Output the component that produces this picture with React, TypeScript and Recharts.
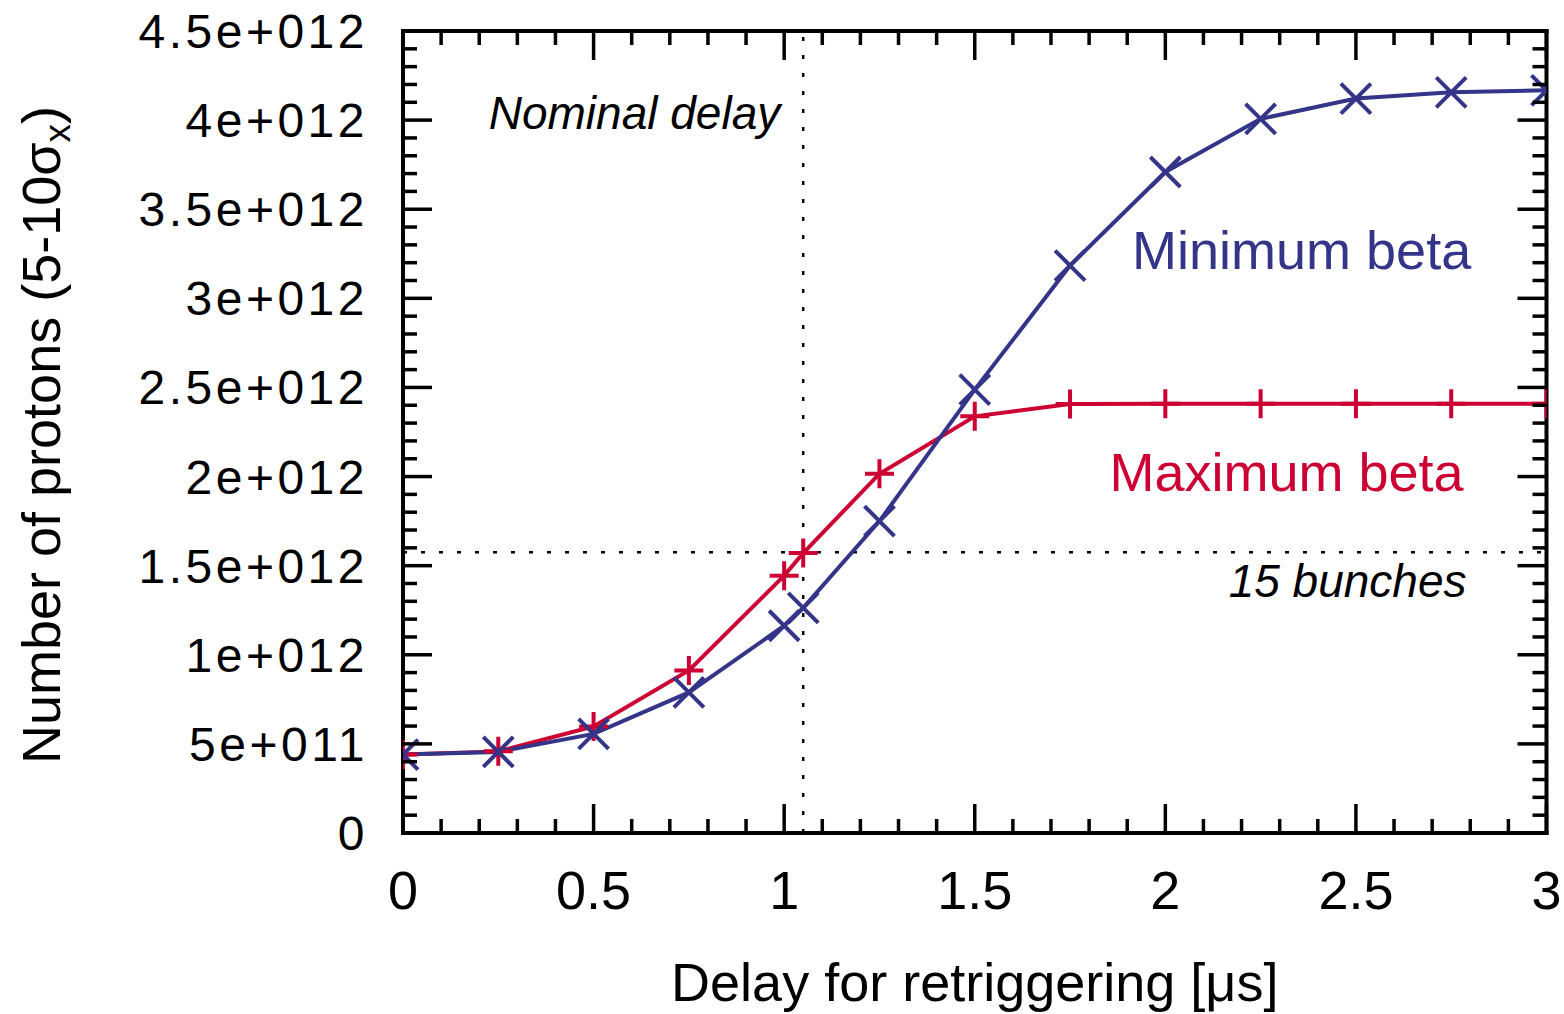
import { LineChart, Line, XAxis, YAxis, ReferenceLine, ReferenceDot, Label } from 'recharts'

// retrigger delay [us] and proton counts in the 5-10 sigma_x window
const delays = [0, 0.25, 0.5, 0.75, 1.0, 1.05, 1.25, 1.5, 1.75, 2.0, 2.25, 2.5, 2.75, 3.0]
const maximumBeta = [
	0.44e12, 0.458e12, 0.598e12, 0.912e12, 1.444e12, 1.571e12, 2.016e12, 2.338e12, 2.407e12, 2.408e12,
	2.408e12, 2.408e12, 2.408e12, 2.408e12,
]
const minimumBeta = [
	0.44e12, 0.455e12, 0.556e12, 0.789e12, 1.163e12, 1.263e12, 1.75e12, 2.488e12, 3.184e12, 3.709e12,
	4.007e12, 4.121e12, 4.156e12, 4.167e12,
]

const xMajorTicks = [0, 0.5, 1, 1.5, 2, 2.5, 3]
const xTickLabels = ['0', '0.5', '1', '1.5', '2', '2.5', '3']
const yMajorTicks = [0, 5e11, 1e12, 1.5e12, 2e12, 2.5e12, 3e12, 3.5e12, 4e12, 4.5e12]
const yTickLabels = ['0', '5e+011', '1e+012', '1.5e+012', '2e+012', '2.5e+012', '3e+012', '3.5e+012', '4e+012', '4.5e+012']

const nominalDelay = 1.05
const fifteenBunches = 1.575e12

// minor ticks every 0.1 us and every 1e11 protons
const xTicks = Array.from({ length: 31 }, (_, i) => i / 10)
const yTicks = Array.from({ length: 46 }, (_, i) => i * 1e11)

const data = delays.map((delay, i) => ({
	delay,
	maxBeta: maximumBeta[i],
	minBeta: minimumBeta[i],
}))

const FONT = "'Liberation Sans', Arial, Helvetica, sans-serif"
const RED = '#cc0033'
const BLUE = '#343488'
const MAJOR_LEN = 29
const MINOR_LEN = 14
const TICK_WIDTH = 3.5
const SERIES_WIDTH = 4

const labelFor = (majors: number[], labels: string[], v: number, eps: number) => {
	const i = majors.findIndex((m) => Math.abs(m - v) < eps)
	return i >= 0 ? labels[i] : null
}

const XTick = ({ x, y, payload, side }: any) => {
	const label = labelFor(xMajorTicks, xTickLabels, payload.value, 1e-6)
	const len = label ? MAJOR_LEN : MINOR_LEN
	const dir = side === 'top' ? 1 : -1
	return (
		<g>
			<line x1={x} y1={y} x2={x} y2={y + dir * len} stroke="#000" strokeWidth={TICK_WIDTH} />
			{side !== 'top' && label && (
				<text x={x} y={y + 76} textAnchor="middle" fontSize={54} fontFamily={FONT} fill="#000">
					{label}
				</text>
			)}
		</g>
	)
}

const YTick = ({ x, y, payload, side }: any) => {
	const label = labelFor(yMajorTicks, yTickLabels, payload.value, 1)
	const len = label ? MAJOR_LEN : MINOR_LEN
	const dir = side === 'right' ? -1 : 1
	return (
		<g>
			<line x1={x} y1={y} x2={x + dir * len} y2={y} stroke="#000" strokeWidth={TICK_WIDTH} />
			{side !== 'right' && label && (
				<text
					x={x - 35}
					y={y + 17}
					textAnchor="end"
					fontSize={48}
					letterSpacing={3.5}
					fontFamily={FONT}
					fill="#000"
				>
					{label}
				</text>
			)}
		</g>
	)
}

const PlusDot = (props: any) => {
	const { cx, cy, index } = props
	if (cx == null || cy == null) return <g key={`plus-${index}`} />
	const h = 14.5
	return (
		<path
			key={`plus-${index}`}
			d={`M${cx - h},${cy}H${cx + h}M${cx},${cy - h}V${cy + h}`}
			stroke={RED}
			strokeWidth={SERIES_WIDTH}
			fill="none"
		/>
	)
}

const CrossDot = (props: any) => {
	const { cx, cy, index } = props
	if (cx == null || cy == null) return <g key={`cross-${index}`} />
	const h = 15
	return (
		<path
			key={`cross-${index}`}
			d={`M${cx - h},${cy - h}L${cx + h},${cy + h}M${cx - h},${cy + h}L${cx + h},${cy - h}`}
			stroke={BLUE}
			strokeWidth={SERIES_WIDTH}
			fill="none"
		/>
	)
}

const frame = { stroke: '#000', strokeWidth: 4, strokeLinecap: 'square' as const }

export default function App() {
	return (
		<div style={{ position: 'absolute', left: 0, top: 0, background: '#fff' }}>
			<LineChart
				width={1564}
				height={1014}
				data={data}
				margin={{ top: 30, right: 16.5, left: 0, bottom: 0 }}
			>
				<XAxis
					dataKey="delay"
					type="number"
					domain={[0, 3]}
					allowDataOverflow
					ticks={xTicks}
					interval={0}
					tickSize={0}
					tickMargin={0}
					tickLine={false}
					axisLine={frame}
					height={181}
					tick={<XTick side="bottom" />}
				>
					<Label
						content={({ viewBox }: any) => (
							<text
								x={viewBox.x + viewBox.width / 2}
								y={1001}
								textAnchor="middle"
								fontSize={54}
								fontFamily={FONT}
								fill="#000"
							>
								Delay for retriggering [μs]
							</text>
						)}
					/>
				</XAxis>
				{/* mirrored frame edge with inward ticks along the top */}
				<XAxis
					xAxisId="top"
					orientation="top"
					dataKey="delay"
					type="number"
					domain={[0, 3]}
					allowDataOverflow
					ticks={xTicks}
					interval={0}
					tickSize={0}
					tickMargin={0}
					tickLine={false}
					axisLine={frame}
					height={1}
					tick={<XTick side="top" />}
				/>
				<YAxis
					type="number"
					domain={[0, 4.5e12]}
					allowDataOverflow
					ticks={yTicks}
					interval={0}
					tickSize={0}
					tickMargin={0}
					tickLine={false}
					axisLine={frame}
					width={403}
					tick={<YTick side="left" />}
				>
					<Label
						content={() => (
							<text
								x={60}
								y={435}
								transform="rotate(-90, 60, 435)"
								textAnchor="middle"
								fontSize={54}
								fontFamily={FONT}
								fill="#000"
							>
								Number of protons (5-10σ
								<tspan fontSize={37} dy={10}>
									x
								</tspan>
								<tspan dy={-10}>)</tspan>
							</text>
						)}
					/>
				</YAxis>
				<YAxis
					yAxisId="right"
					orientation="right"
					type="number"
					domain={[0, 4.5e12]}
					allowDataOverflow
					ticks={yTicks}
					interval={0}
					tickSize={0}
					tickMargin={0}
					tickLine={false}
					axisLine={frame}
					width={1}
					tick={<YTick side="right" />}
				/>

				<ReferenceLine
					x={nominalDelay}
					stroke="#000"
					strokeWidth={2.5}
					strokeDasharray="4 14"
					label={({ viewBox }: any) => (
						<text
							x={viewBox.x - 23}
							y={viewBox.y + 98}
							textAnchor="end"
							fontSize={46}
							fontStyle="italic"
							fontFamily={FONT}
							fill="#000"
						>
							Nominal delay
						</text>
					)}
				/>
				<ReferenceLine
					y={fifteenBunches}
					stroke="#000"
					strokeWidth={2.5}
					strokeDasharray="4 14"
					label={({ viewBox }: any) => (
						<text
							x={viewBox.x + viewBox.width - 80}
							y={viewBox.y + 45}
							textAnchor="end"
							fontSize={46}
							fontStyle="italic"
							fontFamily={FONT}
							fill="#000"
						>
							15 bunches
						</text>
					)}
				/>

				<Line
					dataKey="maxBeta"
					type="linear"
					stroke={RED}
					strokeWidth={SERIES_WIDTH}
					dot={PlusDot}
					activeDot={false}
					isAnimationActive={false}
				/>
				<Line
					dataKey="minBeta"
					type="linear"
					stroke={BLUE}
					strokeWidth={SERIES_WIDTH}
					dot={CrossDot}
					activeDot={false}
					isAnimationActive={false}
				/>

				<ReferenceDot
					x={2.805}
					y={3.161e12}
					r={1}
					fill="none"
					stroke="none"
					label={({ viewBox }: any) => (
						<text x={viewBox.x} y={viewBox.y} textAnchor="end" fontSize={54} fontFamily={FONT} fill={BLUE}>
							Minimum beta
						</text>
					)}
				/>
				<ReferenceDot
					x={2.785}
					y={1.915e12}
					r={1}
					fill="none"
					stroke="none"
					label={({ viewBox }: any) => (
						<text x={viewBox.x} y={viewBox.y} textAnchor="end" fontSize={54} fontFamily={FONT} fill={RED}>
							Maximum beta
						</text>
					)}
				/>
			</LineChart>
		</div>
	)
}
